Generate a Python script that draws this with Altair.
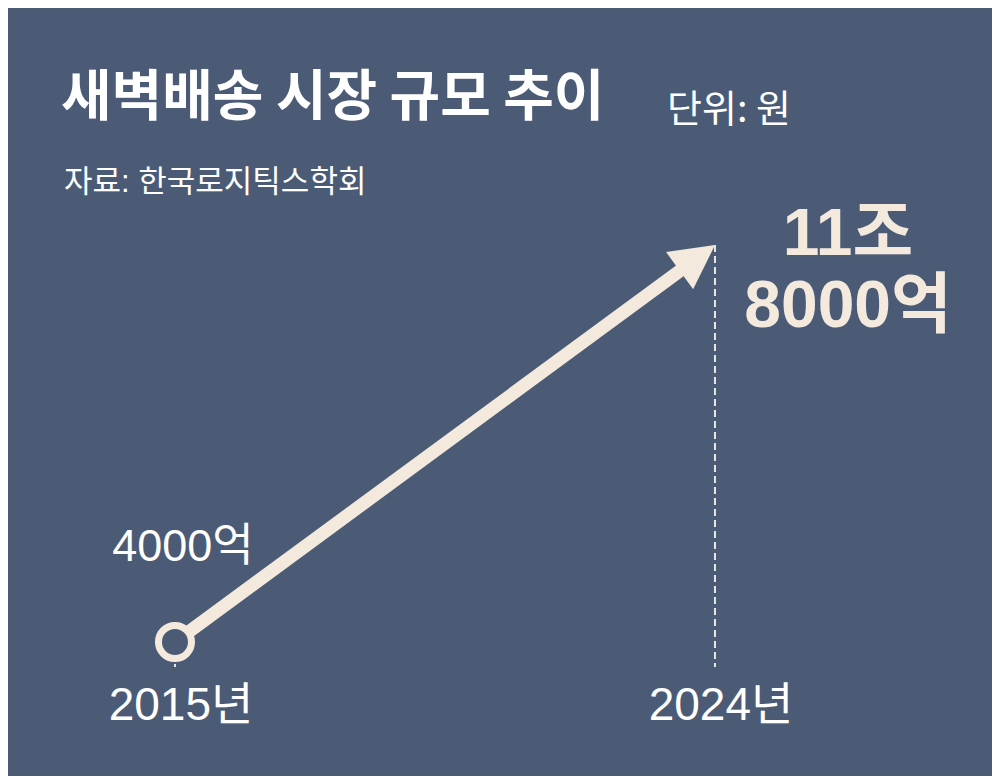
import altair as alt
import pandas as pd

# ---- data ----
years = [2015, 2024]
values = [4000, 118000]            # 단위: 억원
value_labels = ["4000억", "11조\n8000억"]
year_labels = ["2015년", "2024년"]
floor_values = [-3200, -3200]      # 점선 바닥

title_text = "새벽배송 시장 규모 추이"
unit_text = "단위: 원"
source_text = "자료: 한국로지틱스학회"

BG = "#4b5b76"
CREAM = "#f3e9dc"
WHITE = "#ffffff"
FONT_MIX = "Liberation Sans, Noto Sans CJK KR"
FONT_KR = "Noto Sans CJK KR"

W, H = 984, 768

df = pd.DataFrame({
    "year": years,
    "value": values,
    "floor": floor_values,
    "vlabel": value_labels,
    "ylabel": year_labels,
})

xs = alt.Scale(domain=[2012.217, 2028.617], nice=False, zero=False)
ys = alt.Scale(domain=[-34478, 186055], nice=False, zero=False)

X = alt.X("year:Q", scale=xs, axis=None)
Y = alt.Y("value:Q", scale=ys, axis=None)

base = alt.Chart(df)

rules = base.mark_rule(color="#e9e7e4", strokeWidth=2, strokeDash=[7, 4]).encode(
    x=X, y=Y, y2=alt.Y2("floor:Q")
)

shaft = base.mark_line(color=CREAM, strokeWidth=13, strokeCap="butt",
                       strokeDash=[648, 400]).encode(x=X, y=Y)

start = base.transform_filter(alt.datum.year == years[0]).mark_point(
    shape="circle", filled=False, fill=BG, fillOpacity=1, stroke=CREAM,
    strokeWidth=7, size=1089, opacity=1
).encode(x=X, y=Y)

head = base.transform_filter(alt.datum.year == years[-1]).mark_point(
    shape="M0,0L-1,1.9L1,1.9Z", filled=True, fill=CREAM, strokeWidth=0,
    size=2116, angle=54, opacity=1
).encode(x=X, y=Y)

year_text = base.mark_text(font=FONT_MIX, fontSize=46, color=WHITE,
                           align="center", baseline="alphabetic", dx=6, dy=53).encode(
    x=X, y=alt.Y("floor:Q", scale=ys, axis=None), text="ylabel:N"
)

start_label = base.transform_filter(alt.datum.year == years[0]).mark_text(
    font=FONT_MIX, fontSize=45, color=WHITE, align="center",
    baseline="alphabetic", dx=8, dy=-81
).encode(x=X, y=Y, text="vlabel:N")

end_label = base.transform_filter(alt.datum.year == years[-1]).mark_text(
    font=FONT_MIX, fontSize=66, fontWeight="bold", color=CREAM, align="center",
    baseline="alphabetic", dx=133, dy=10, lineBreak="\n", lineHeight=72
).encode(x=X, y=Y, text="vlabel:N")

tdf = pd.DataFrame({"t": [title_text]})
title = alt.Chart(tdf).mark_text(font=FONT_KR, fontSize=55, fontWeight="bold",
                                 color=WHITE, align="left", baseline="alphabetic").encode(
    x=alt.value(53), y=alt.value(107), text="t:N")

udf = pd.DataFrame({"t": [unit_text]})
unit = alt.Chart(udf).mark_text(font=FONT_KR, fontSize=38, color=WHITE,
                                align="left", baseline="alphabetic").encode(
    x=alt.value(659), y=alt.value(114), text="t:N")

sdf = pd.DataFrame({"t": [source_text]})
source = alt.Chart(sdf).mark_text(font=FONT_MIX, fontSize=31, color=WHITE,
                                  align="left", baseline="alphabetic").encode(
    x=alt.value(56), y=alt.value(184), text="t:N")

chart = alt.layer(
    rules, shaft, start, head, year_text, start_label, end_label, title, unit, source
).properties(
    width=W, height=H, background=BG, padding=0
).configure_view(stroke=None)

chart.save("out.html", embed_options={"renderer": "svg", "actions": False})
